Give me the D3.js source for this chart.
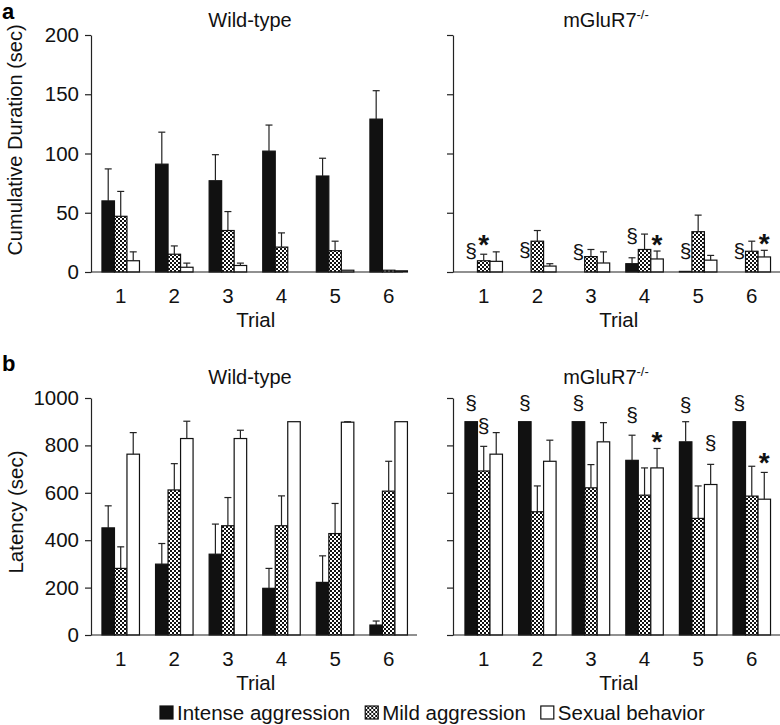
<!DOCTYPE html>
<html>
<head>
<meta charset="utf-8">
<script src="https://cdn.jsdelivr.net/npm/d3@7"></script>
<style>
  body { margin: 0; background: #fff; }
  svg { font-family: "Liberation Sans", Arial, sans-serif; }
</style>
</head>
<body>
<svg id="chart" width="780" height="725"></svg>
<script>
const trials = ["1", "2", "3", "4", "5", "6"];
const seriesNames = ["Intense aggression", "Mild aggression", "Sexual behavior"];

// panel a: cumulative duration (sec), mean and SEM
const durTicks = [0, 50, 100, 150, 200];
const durWtIntense = [60, 91, 77, 102, 81, 129];
const durWtIntenseSem = [27, 27, 22, 22, 15, 24];
const durWtMild = [47, 15, 35, 21, 18, 1.5];
const durWtMildSem = [21, 7, 16, 12, 8, 0];
const durWtSexual = [9.5, 4, 5.5, 0, 1.5, 1];
const durWtSexualSem = [7.5, 3.5, 2, 0, 0, 0];

const durKoIntense = [0, 0, 0, 7, 0.5, 0];
const durKoIntenseSem = [0, 0, 0, 5, 0, 0];
const durKoMild = [9.5, 26, 13, 19, 34, 17.5];
const durKoMildSem = [5.5, 9, 6, 13, 14, 8.5];
const durKoSexual = [9, 5, 7.6, 11, 10, 12.7];
const durKoSexualSem = [8, 2, 9.4, 6.7, 4, 5.6];

// panel b: latency (sec)
const latTicks = [0, 200, 400, 600, 800, 1000];
const latWtIntense = [452, 299, 341, 197, 222, 42];
const latWtIntenseSem = [93, 87, 127, 84, 112, 17];
const latWtMild = [281, 612, 461, 461, 428, 607];
const latWtMildSem = [91, 111, 119, 126, 127, 126];
const latWtSexual = [763, 829, 829, 900, 898, 900];
const latWtSexualSem = [91, 73, 35, 0, 2, 0];

const latKoIntense = [900, 900, 900, 737, 815, 900];
const latKoIntenseSem = [0, 0, 0, 106, 85, 0];
const latKoMild = [692, 520, 621, 590, 492, 586];
const latKoMildSem = [104, 109, 98, 115, 137, 126];
const latKoSexual = [763, 733, 815, 705, 635, 573];
const latKoSexualSem = [91, 89, 81, 82, 85, 113];

// significance marks: trial, series index, symbol, value where the mark sits
const durKoMarks = [
  ["1", 0, "§", 17], ["1", 1, "*", 28], ["2", 0, "§", 18], ["3", 0, "§", 16],
  ["4", 0, "§", 30], ["4", 2, "*", 28], ["5", 0, "§", 17], ["6", 0, "§", 17], ["6", 2, "*", 29]
];
const latKoMarks = [
  ["1", 0, "§", 978], ["1", 1, "§", 877], ["2", 0, "§", 978], ["3", 0, "§", 978],
  ["4", 0, "§", 927], ["4", 2, "*", 843], ["5", 0, "§", 969], ["5", 2, "§", 809],
  ["6", 0, "§", 978], ["6", 2, "*", 751]
];

const svg = d3.select("#chart");
const FS = 20.5;

// checkered fill for mild aggression
const defs = svg.append("defs");
const pat = defs.append("pattern").attr("id", "check")
  .attr("patternUnits", "userSpaceOnUse").attr("width", 4).attr("height", 4);
pat.append("rect").attr("width", 4).attr("height", 4).attr("fill", "#fff");
pat.append("rect").attr("width", 2).attr("height", 2).attr("fill", "#111");
pat.append("rect").attr("x", 2).attr("y", 2).attr("width", 2).attr("height", 2).attr("fill", "#111");

const fills = ["#111", "url(#check)", "#fff"];

const yDur = d3.scaleLinear().domain([0, 200]).range([272, 35]);
const yLat = d3.scaleLinear().domain([0, 1000]).range([635, 398]);

const xLeft = d3.scaleBand().domain(trials).range([96.6, 412.8]).paddingInner(0.3).paddingOuter(0.1);
const xRight = d3.scaleBand().domain(trials).range([459.6, 775.9]).paddingInner(0.3).paddingOuter(0.1);
const xSub = d3.scaleBand().domain([0, 1, 2]).range([0, xLeft.bandwidth()]);

function drawPanel(opt) {
  const { x, y, ticks, axisX, axisEnd, series, marks, showLabels, title, sup, titleX, titleY } = opt;
  const g = svg.append("g");

  // y axis
  const ya = g.append("g").attr("transform", `translate(${axisX},0)`)
    .call(d3.axisLeft(y).tickValues(ticks).tickSize(6).tickSizeOuter(0).tickPadding(6)
      .tickFormat(showLabels ? d3.format("d") : ""));
  ya.select(".domain").attr("stroke", "#222").attr("stroke-width", 1.2);
  ya.selectAll(".tick line").attr("stroke", "#222").attr("stroke-width", 1.2);
  ya.selectAll("text").attr("font-size", FS).attr("fill", "#111").attr("font-family", null);

  // bars
  series.forEach(([vals, sems], s) => {
    const cx = (t) => x(t) + xSub(s) + xSub.bandwidth() / 2;
    g.append("g").selectAll("rect").data(trials).join("rect")
      .attr("x", (t) => x(t) + xSub(s))
      .attr("width", xSub.bandwidth())
      .attr("y", (t, i) => y(vals[i]))
      .attr("height", (t, i) => y(0) - y(vals[i]))
      .attr("fill", fills[s]).attr("stroke", "#111").attr("stroke-width", 1.2);

    const eb = g.append("g").attr("stroke", "#222").attr("stroke-width", 1.2)
      .selectAll("g").data(trials.filter((t, i) => sems[i] > 0)).join("g");
    const top = (t) => { const i = trials.indexOf(t); return y(vals[i] + sems[i]); };
    eb.append("line")
      .attr("x1", cx).attr("x2", cx)
      .attr("y1", (t) => y(vals[trials.indexOf(t)]))
      .attr("y2", top);
    eb.append("line")
      .attr("x1", (t) => cx(t) - 3.5).attr("x2", (t) => cx(t) + 3.5)
      .attr("y1", top).attr("y2", top);
  });

  // x axis
  const xa = g.append("g").attr("transform", `translate(0,${y(0)})`)
    .call(d3.axisBottom(x).tickSize(0).tickPadding(16));
  xa.select(".domain").remove();
  xa.selectAll("text").attr("font-size", FS).attr("fill", "#111").attr("font-family", null);
  g.append("line").attr("x1", axisX).attr("x2", axisEnd).attr("y1", y(0)).attr("y2", y(0))
    .attr("stroke", "#222").attr("stroke-width", 1.2);

  g.append("text").attr("x", (x.range()[0] + x.range()[1]) / 2 + 1).attr("y", y(0) + 55)
    .attr("text-anchor", "middle").attr("font-size", FS).attr("fill", "#111").text("Trial");

  // title
  const tt = g.append("text").attr("x", titleX).attr("y", titleY)
    .attr("text-anchor", "middle").attr("font-size", 20).attr("fill", "#111").text(title);
  if (sup) tt.append("tspan").attr("font-size", 13).attr("dy", -8).text(sup);

  // significance marks
  g.selectAll("text.mark").data(marks).join("text").attr("class", "mark")
    .attr("x", (d) => x(d[0]) + xSub(d[1]) + xSub.bandwidth() / 2)
    .attr("y", (d) => y(d[3]))
    .attr("dy", (d) => d[2] === "*" ? "0.55em" : "0.3em")
    .attr("text-anchor", "middle")
    .attr("font-size", (d) => d[2] === "*" ? 28 : 21)
    .attr("font-weight", (d) => d[2] === "*" ? "bold" : "normal")
    .attr("fill", "#111")
    .text((d) => d[2]);
}

drawPanel({
  x: xLeft, y: yDur, ticks: durTicks, axisX: 91, axisEnd: 403, showLabels: true,
  series: [[durWtIntense, durWtIntenseSem], [durWtMild, durWtMildSem], [durWtSexual, durWtSexualSem]],
  marks: [], title: "Wild-type", titleX: 250, titleY: 27
});
drawPanel({
  x: xRight, y: yDur, ticks: durTicks, axisX: 453, axisEnd: 780, showLabels: false,
  series: [[durKoIntense, durKoIntenseSem], [durKoMild, durKoMildSem], [durKoSexual, durKoSexualSem]],
  marks: durKoMarks, title: "mGluR7", sup: "-/-", titleX: 606, titleY: 27
});
drawPanel({
  x: xLeft, y: yLat, ticks: latTicks, axisX: 91, axisEnd: 417, showLabels: true,
  series: [[latWtIntense, latWtIntenseSem], [latWtMild, latWtMildSem], [latWtSexual, latWtSexualSem]],
  marks: [], title: "Wild-type", titleX: 250, titleY: 384
});
drawPanel({
  x: xRight, y: yLat, ticks: latTicks, axisX: 453, axisEnd: 780, showLabels: false,
  series: [[latKoIntense, latKoIntenseSem], [latKoMild, latKoMildSem], [latKoSexual, latKoSexualSem]],
  marks: latKoMarks, title: "mGluR7", sup: "-/-", titleX: 606, titleY: 384
});

// y axis titles
svg.append("text").attr("transform", "translate(15,140) rotate(-90)")
  .attr("text-anchor", "middle").attr("dominant-baseline", "central")
  .attr("font-size", 20).attr("fill", "#111").text("Cumulative Duration (sec)");
svg.append("text").attr("transform", "translate(15,512) rotate(-90)")
  .attr("text-anchor", "middle").attr("dominant-baseline", "central")
  .attr("font-size", FS).attr("fill", "#111").text("Latency (sec)");

// panel letters
svg.append("text").attr("x", 2).attr("y", 19).attr("font-size", 22).attr("font-weight", "bold").text("a");
svg.append("text").attr("x", 2).attr("y", 371).attr("font-size", 22).attr("font-weight", "bold").text("b");

// legend
const legend = svg.append("g");
let lx = 0;
const items = legend.selectAll("g").data(seriesNames).join("g");
items.append("rect").attr("width", 13).attr("height", 13).attr("y", -7)
  .attr("fill", (d, i) => fills[i]).attr("stroke", "#111").attr("stroke-width", 1.2);
items.append("text").attr("x", 17).attr("dy", "0.35em").attr("font-size", FS).attr("fill", "#111").text((d) => d);
items.each(function () {
  const w = this.getBBox().width;
  d3.select(this).attr("transform", `translate(${lx},0)`);
  lx += w + 15;
});
legend.attr("transform", `translate(${705 - (lx - 15)},713)`);
</script>
</body>
</html>
